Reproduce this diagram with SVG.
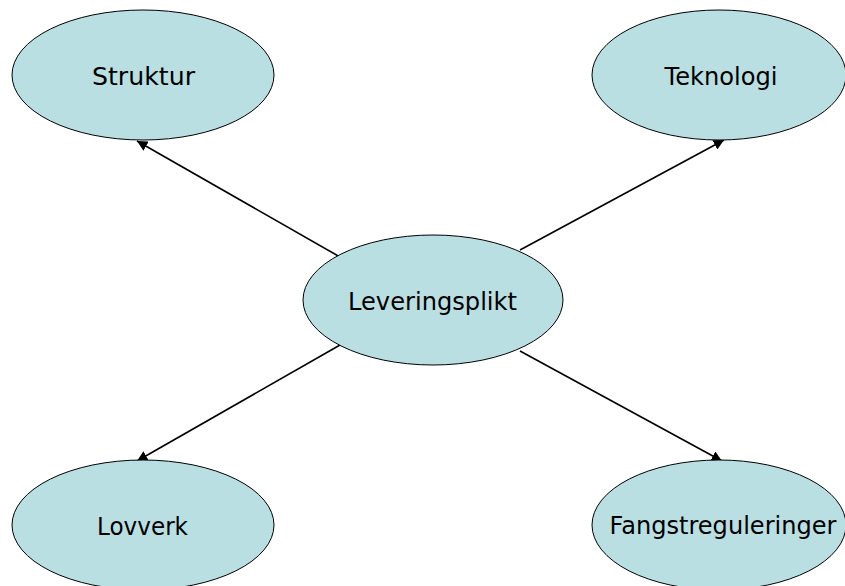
<svg xmlns="http://www.w3.org/2000/svg" width="845" height="586" viewBox="0 0 845 586">
<style>
.n ellipse{fill:#b9dfe3;stroke:#000;stroke-width:1}
.n text{font-family:"Comic Sans MS","DejaVu Sans",sans-serif;font-size:24px;fill:#000;text-anchor:middle}
.c line{stroke:#000;stroke-width:1.6;marker-end:url(#ah)}
</style>
<defs>
<marker id="ah" viewBox="0 0 10 10" refX="10" refY="5" markerWidth="6.5" markerHeight="6.5" markerUnits="strokeWidth" orient="auto">
<path d="M0,0 L10,5 L0,10 z" fill="#000"/>
</marker>
</defs>
<rect width="845" height="586" fill="#fff"/>
<g class="c">
<line x1="340" y1="257" x2="137" y2="141"/>
<line x1="520" y1="250" x2="724" y2="140"/>
<line x1="340" y1="345" x2="137" y2="461"/>
<line x1="520" y1="351" x2="722" y2="461"/>
</g>
<g id="struktur" class="n"><ellipse cx="143" cy="75" rx="131" ry="65"/><text x="143.5" y="85" textLength="103" lengthAdjust="spacingAndGlyphs">Struktur</text></g>
<g id="teknologi" class="n"><ellipse cx="719" cy="75" rx="127" ry="65"/><text x="721" y="85" textLength="113" lengthAdjust="spacingAndGlyphs">Teknologi</text></g>
<g id="leveringsplikt" class="n"><ellipse cx="433" cy="300" rx="130" ry="65"/><text x="432.5" y="310" textLength="169" lengthAdjust="spacingAndGlyphs">Leveringsplikt</text></g>
<g id="lovverk" class="n"><ellipse cx="143" cy="525" rx="131" ry="65"/><text x="142.5" y="535" textLength="91" lengthAdjust="spacingAndGlyphs">Lovverk</text></g>
<g id="fangstreguleringer" class="n"><ellipse cx="719" cy="525" rx="127" ry="65"/><text x="723" y="534" textLength="227" lengthAdjust="spacingAndGlyphs">Fangstreguleringer</text></g>
</svg>
